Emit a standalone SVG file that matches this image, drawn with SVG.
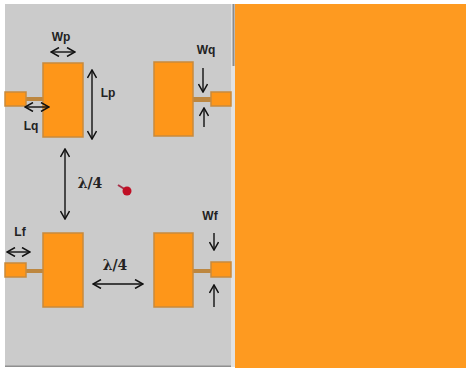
<svg xmlns="http://www.w3.org/2000/svg" width="466" height="368" viewBox="0 0 466 368">
<defs>
<marker id="a" viewBox="0 0 10 10" refX="9" refY="5" markerWidth="10" markerHeight="10" markerUnits="userSpaceOnUse" orient="auto-start-reverse"><path d="M1 0.5L9 5L1 9.5" fill="none" stroke="#111" stroke-width="1.5"/></marker>
</defs>
<style>
.p{fill:#fe9619;stroke:#c98a3c;stroke-width:1.5}
.l{fill:#bd8740}
.c{stroke:#111;stroke-width:1.4;fill:none;marker-start:url(#a);marker-end:url(#a)}
.s{stroke:#111;stroke-width:1.4;fill:none;marker-end:url(#a)}
text{font-family:"Liberation Sans",Arial,sans-serif;font-size:12px;font-weight:700;fill:#222;text-anchor:middle}
.m{font-family:"DejaVu Serif",serif;font-size:14px}
</style>
<rect width="466" height="368" fill="#fff"/>
<rect x="5" y="4" width="227" height="363" fill="#cbcbcb"/>
<rect x="5" y="365.500" width="227" height="1.500" fill="#8f8f8f"/>
<rect x="231" y="4" width="4" height="363" fill="#e2e2e2"/>
<rect x="232.500" y="4" width="2" height="62" fill="#8c8c8c"/>
<rect x="235" y="4" width="231" height="364" fill="#fe9a20"/>
<g id="patch-tl"><rect class="l" x="26" y="97" width="18" height="4"/><rect class="p" x="43" y="63" width="40" height="74"/><rect class="p" x="5" y="92" width="21" height="14"/></g>
<g id="patch-tr"><rect class="l" x="193" y="97" width="18" height="5"/><rect class="p" x="154" y="62" width="39" height="74"/><rect class="p" x="211" y="92" width="20" height="14"/></g>
<g id="patch-bl"><rect class="l" x="26" y="269" width="18" height="4"/><rect class="p" x="43" y="233" width="40" height="74"/><rect class="p" x="5" y="263" width="21" height="14"/></g>
<g id="patch-br"><rect class="l" x="193" y="269" width="18" height="4"/><rect class="p" x="154" y="233" width="39" height="74"/><rect class="p" x="211" y="262" width="20" height="15"/></g>
<g id="connectors">
<path class="c" d="M51 52H75"/>
<path class="c" d="M25 107H49"/>
<path class="c" d="M92 70V139"/>
<path class="c" d="M65 149V219"/>
<path class="c" d="M7 252H30"/>
<path class="c" d="M93 284H143"/>
<path class="s" d="M203 68V92"/>
<path class="s" d="M204 127V108"/>
<path class="s" d="M214 233V250"/>
<path class="s" d="M214 307V285"/>
</g>
<g id="labels">
<text x="61" y="41">Wp</text>
<text x="206" y="54">Wq</text>
<text x="108" y="97">Lp</text>
<text x="31" y="130">Lq</text>
<text x="20" y="236">Lf</text>
<text x="210" y="220">Wf</text>
<text class="m" x="90" y="188">λ/4</text>
<text class="m" x="115" y="270">λ/4</text>
</g>
<g id="marker-red"><path d="M118 185L126 190" stroke="#a83048" stroke-width="2"/><circle cx="127" cy="191" r="4.500" fill="#c00f25"/></g>
</svg>
